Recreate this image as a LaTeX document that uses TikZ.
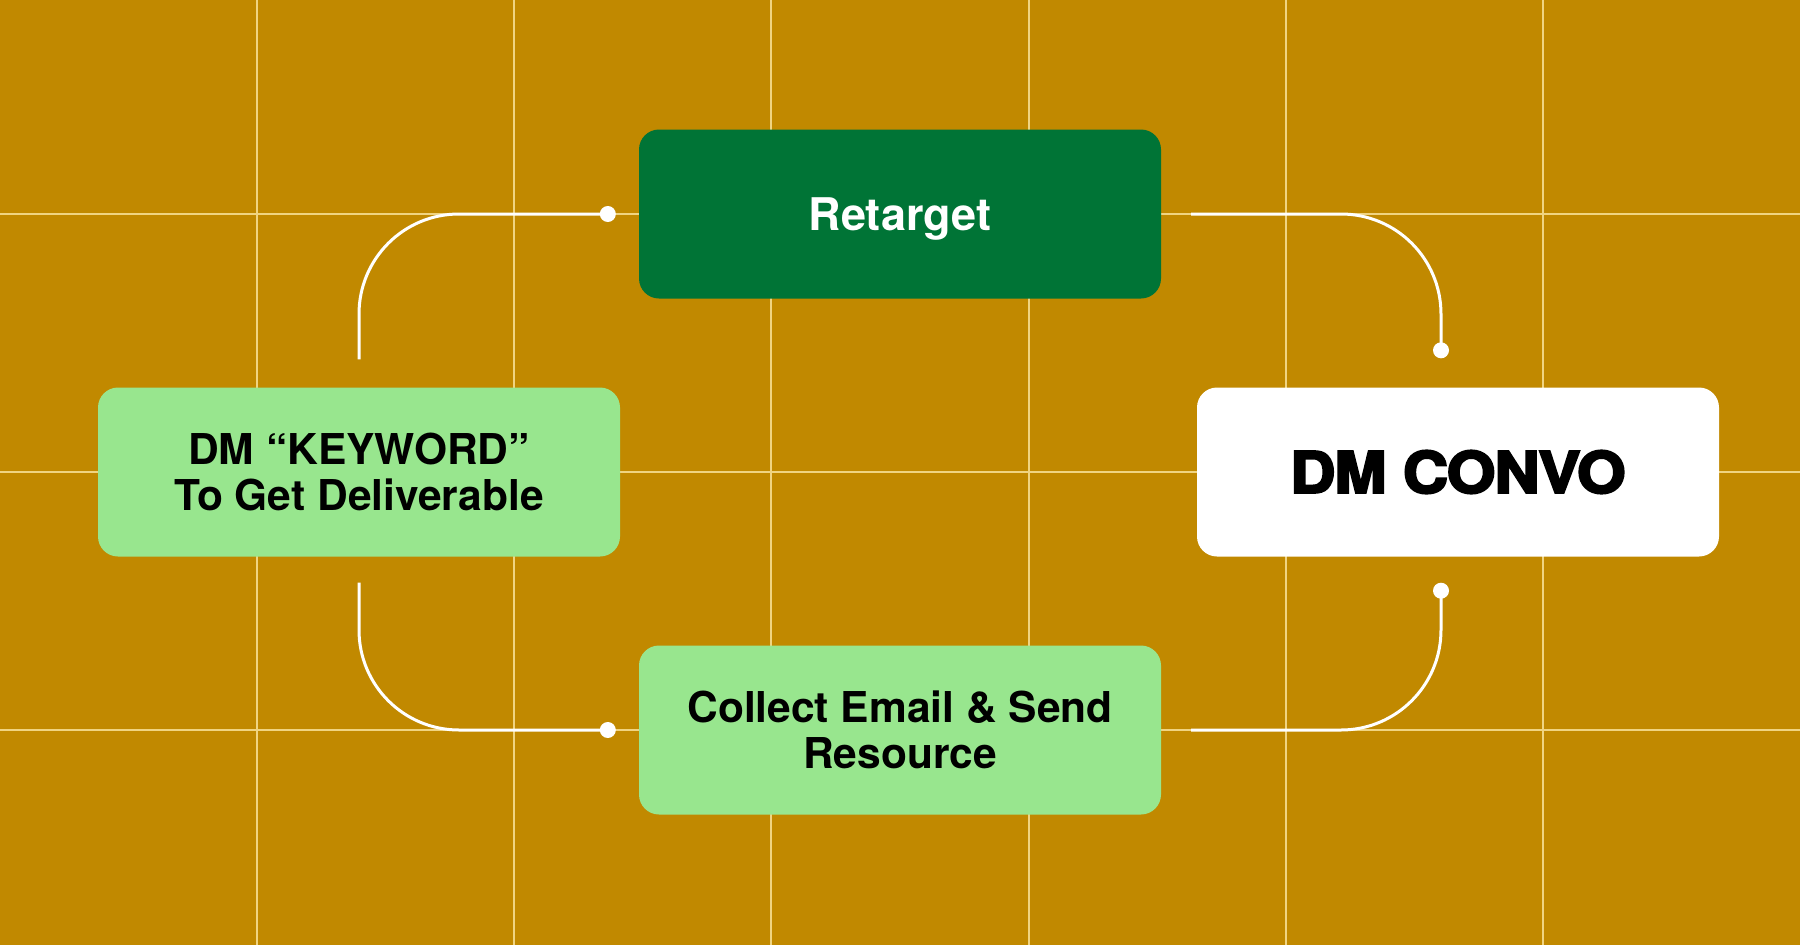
\documentclass[tikz,border=0pt]{standalone}
\usepackage{fontspec}
\setmainfont{TeX Gyre Heros}
\newfontfamily\heavy{texgyreheros-bold.otf}[FakeBold=4, FakeStretch=1.1, LetterSpace=-2]
\definecolor{bgc}{RGB}{193,137,0}
\definecolor{gridc}{RGB}{240,212,130}
\definecolor{dgreen}{RGB}{0,116,54}
\definecolor{lgreen}{RGB}{152,230,142}
\tikzset{
  box/.style={rectangle, rounded corners=20pt, minimum width=522pt, minimum height=169pt, inner sep=0pt, align=center},
  gridline/.style={draw=gridc, line width=2pt},
  conn/.style={draw=white, line width=3pt, rounded corners=100pt},
  dotc/.style={fill=white},
  lbl/.style={font=\fontsize{42.5}{46}\selectfont\bfseries, text=black},
}
\begin{document}
\begin{tikzpicture}[x=1pt,y=-1pt]
\fill[bgc] (0,0) rectangle (1800,945);
\useasboundingbox (0,0) rectangle (1800,945);
\foreach \k in {1,...,6} {
  \draw[gridline] ({1800*\k/7},0) -- ({1800*\k/7},945);
}
\foreach \yy in {214,472,730} {
  \draw[gridline] (0,\yy) -- (1800,\yy);
}
\node[box, fill=dgreen, lbl, font=\fontsize{45}{48}\selectfont\bfseries, text=white, text depth=0pt] (ret) at (900,214) {Retarget};
\node[box, fill=lgreen, lbl] (kw) at (359,472) {DM “KEYWORD”\\To Get Deliverable};
\node[box, fill=white, font=\heavy\fontsize{57}{60}\selectfont] (conv) at (1458,472) {DM CONVO};
\node[box, fill=lgreen, lbl] (col) at (900,730) {Collect Email \& Send\\Resource};

\coordinate (s1) at ([yshift=28pt]kw.north);
\coordinate (d1) at ([xshift=-31pt]ret.west);
\coordinate (s2) at ([xshift=30pt]ret.east);
\coordinate (d2) at ([xshift=-17pt,yshift=37pt]conv.north);
\coordinate (s3) at ([yshift=-26pt]kw.south);
\coordinate (d3) at ([xshift=-31pt]col.west);
\coordinate (s4) at ([xshift=30pt]col.east);
\coordinate (d4) at ([xshift=-17pt,yshift=-34pt]conv.south);

\draw[conn] (s1) |- (d1);
\draw[conn] (s2) -| (d2);
\draw[conn] (s3) |- (d3);
\draw[conn] (s4) -| (d4);
\foreach \d in {d1,d2,d3,d4} { \fill[dotc] (\d) circle (8pt); }
\end{tikzpicture}
\end{document}
